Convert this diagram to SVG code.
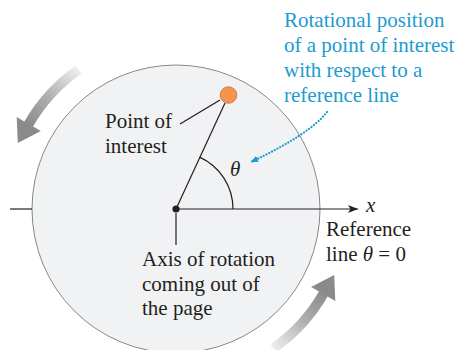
<svg xmlns="http://www.w3.org/2000/svg" width="459" height="350" viewBox="0 0 459 350">
<style>
  text { font-family: "Liberation Serif", "Times New Roman", serif; font-size: 21px; fill: #231f20; }
  .blue { fill: #1b9bd1; }
  .it { font-style: italic; }
  .ln { stroke: #231f20; stroke-width: 1.2; fill: none; }
</style>
<defs>
  <linearGradient id="gArrow" gradientUnits="userSpaceOnUse" x1="80" y1="66" x2="30" y2="128">
    <stop offset="0" stop-color="#f4f4f4"/>
    <stop offset="0.55" stop-color="#b0b0b0"/>
    <stop offset="1" stop-color="#8a8a8a"/>
  </linearGradient>
  <marker id="axArrow" viewBox="0 0 10 8" refX="10" refY="4" markerWidth="10" markerHeight="8" markerUnits="userSpaceOnUse" orient="auto">
    <path d="M0,0 L10,4 L0,8 L2.5,4 Z" fill="#231f20"/>
  </marker>
  <marker id="blueArrow" viewBox="0 0 10 8" refX="9" refY="4" markerWidth="8" markerHeight="7" markerUnits="userSpaceOnUse" orient="auto">
    <path d="M0,0 L10,4 L0,8 Z" fill="#1b9bd1"/>
  </marker>
  <path id="rotArrow" d="M75.6,65.6 A175,175 0 0 0 24.4,121.5 L16.7,117 L17.8,143 L40.9,131 L33.1,126.5 A165,165 0 0 1 81.4,73.8 Z" fill="url(#gArrow)"/>
</defs>

<g id="disk">
  <circle cx="176" cy="209" r="144" fill="#f1f2f4" stroke="#7a7a7a" stroke-width="0.9"/>
</g>

<g id="rotation-arrows">
  <use href="#rotArrow"/>
  <use href="#rotArrow" transform="rotate(180 176 209)"/>
</g>

<g id="connectors">
  <line class="ln" x1="10" y1="209" x2="32" y2="209"/>
  <line class="ln" x1="176" y1="209" x2="358" y2="209" marker-end="url(#axArrow)"/>
  <line class="ln" x1="176" y1="209" x2="225" y2="103"/>
  <path class="ln" d="M233,209 A57,57 0 0 0 199.6,157.1"/>
  <line class="ln" x1="180" y1="124" x2="220" y2="100"/>
  <line class="ln" x1="176" y1="213" x2="176" y2="245"/>
  <path d="M327,112 Q310,134 251,162" fill="none" stroke="#1b9bd1" stroke-width="2.2" stroke-dasharray="0.1 3" stroke-linecap="round" marker-end="url(#blueArrow)"/>
</g>

<g id="axis-point">
  <circle cx="176" cy="209" r="3.6" fill="#231f20"/>
</g>

<g id="point-of-interest">
  <circle cx="228.5" cy="95" r="8.3" fill="#f4944f" stroke="#c86e35" stroke-width="0.8"/>
  <text x="105" y="128">Point of</text>
  <text x="105" y="153">interest</text>
</g>

<g id="angle-label">
  <text class="it" x="230" y="176">θ</text>
</g>

<g id="x-label">
  <text class="it" x="366" y="212">x</text>
</g>

<g id="rotational-position-label">
  <text class="blue" x="284" y="27">Rotational position</text>
  <text class="blue" x="284" y="52">of a point of interest</text>
  <text class="blue" x="284" y="77">with respect to a</text>
  <text class="blue" x="284" y="102">reference line</text>
</g>

<g id="axis-label">
  <text x="142" y="266">Axis of rotation</text>
  <text x="142" y="291">coming out of</text>
  <text x="142" y="315">the page</text>
</g>

<g id="reference-label">
  <text x="326" y="236">Reference</text>
  <text x="326" y="261">line <tspan class="it">θ</tspan> = 0</text>
</g>
</svg>
